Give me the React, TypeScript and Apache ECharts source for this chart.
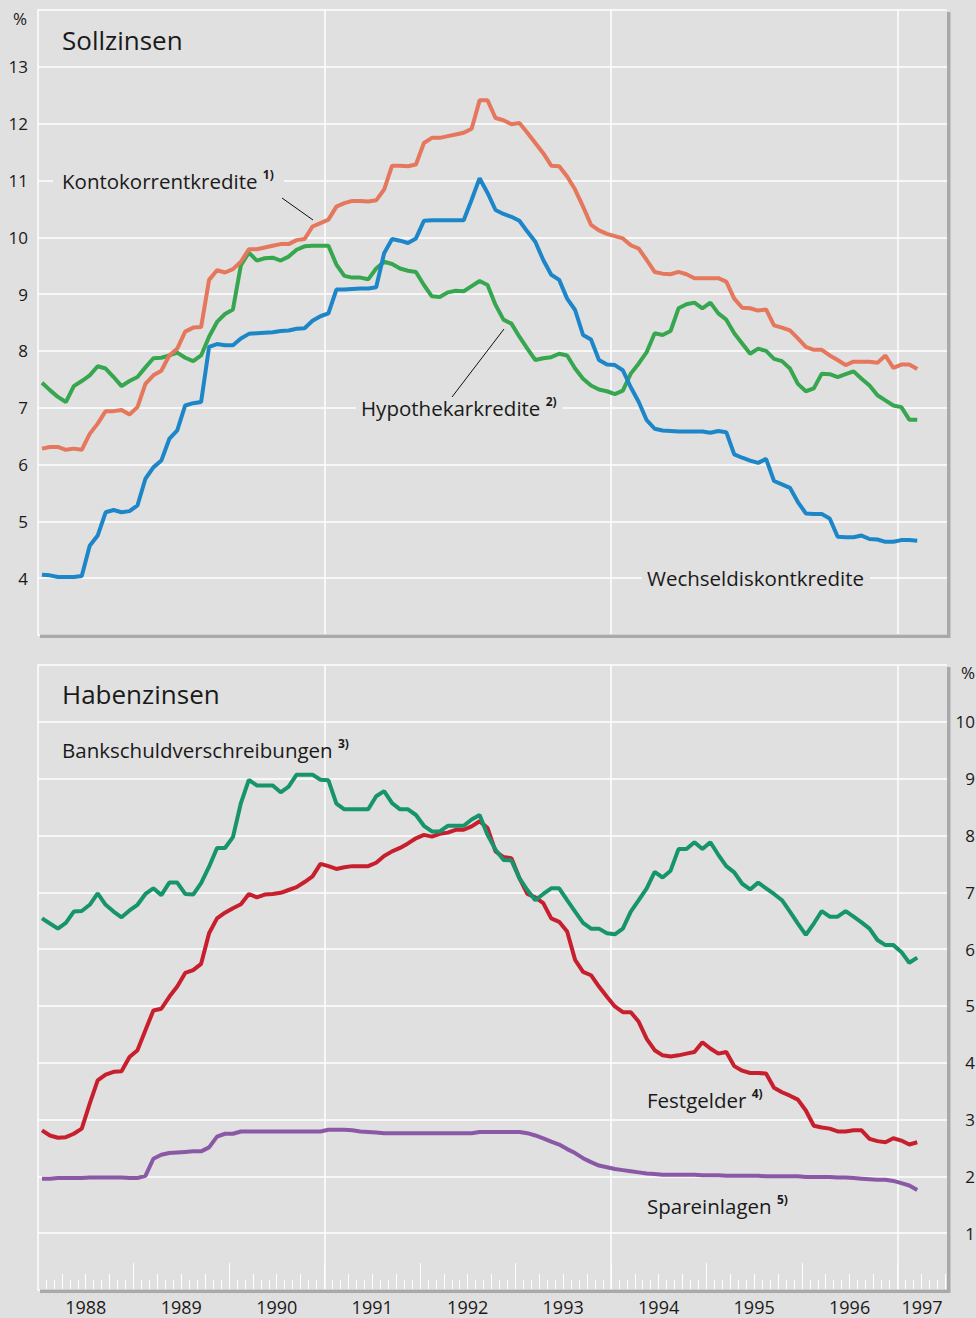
import React, { useEffect, useRef } from "react";
import * as echarts from "echarts";

// ---------- data (monthly, Jan 1988 – Mar 1997) ----------
const START_YEAR = 1988;
const yearLabels = ["1988", "1989", "1990", "1991", "1992", "1993", "1994", "1995", "1996", "1997"];
const sollTickLabels = [4, 5, 6, 7, 8, 9, 10, 11, 12, 13];
const habenTickLabels = [1, 2, 3, 4, 5, 6, 7, 8, 9, 10];

const kontokorrent = [
  6.28, 6.31, 6.31, 6.26, 6.28, 6.26, 6.54, 6.72, 6.94, 6.94, 6.96, 6.88,
  7.01, 7.42, 7.57, 7.65, 7.92, 8.04, 8.34, 8.41, 8.42, 9.25, 9.42, 9.38,
  9.44, 9.57, 9.79, 9.79, 9.82, 9.85, 9.88, 9.88, 9.95, 9.97, 10.19, 10.25,
  10.31, 10.54, 10.6, 10.64, 10.64, 10.63, 10.65, 10.84, 11.26, 11.26, 11.25, 11.28,
  11.66, 11.75, 11.75, 11.78, 11.81, 11.84, 11.91, 12.41, 12.41, 12.1, 12.06, 11.99,
  12.01, 11.84, 11.66, 11.48, 11.26, 11.25, 11.07, 10.84, 10.54, 10.22, 10.12, 10.06,
  10.02, 9.98, 9.86, 9.8, 9.6, 9.39, 9.36, 9.35, 9.39, 9.35, 9.28, 9.28,
  9.28, 9.28, 9.22, 8.92, 8.76, 8.75, 8.71, 8.73, 8.45, 8.41, 8.36, 8.22,
  8.07, 8.02, 8.02, 7.92, 7.84, 7.75, 7.81, 7.81, 7.81, 7.79, 7.92, 7.7,
  7.76, 7.76, 7.68,
];

const wechseldiskont = [
  4.06, 4.05, 4.02, 4.02, 4.02, 4.04, 4.57, 4.75, 5.16, 5.2, 5.16, 5.18,
  5.28, 5.75, 5.95, 6.07, 6.45, 6.6, 7.04, 7.08, 7.1, 8.07, 8.12, 8.1,
  8.1, 8.22, 8.3, 8.31, 8.32, 8.33, 8.35, 8.36, 8.39, 8.4, 8.53, 8.61,
  8.66, 9.08, 9.08, 9.09, 9.1, 9.1, 9.12, 9.72, 9.97, 9.94, 9.9, 9.98,
  10.29, 10.3, 10.3, 10.3, 10.3, 10.3, 10.66, 11.04, 10.78, 10.48, 10.41, 10.36,
  10.29, 10.1, 9.92, 9.6, 9.34, 9.25, 8.92, 8.72, 8.28, 8.2, 7.84, 7.76,
  7.75, 7.66, 7.36, 7.1, 6.78, 6.63, 6.6, 6.59, 6.58, 6.58, 6.58, 6.58,
  6.56, 6.59, 6.57, 6.18, 6.12, 6.07, 6.03, 6.1, 5.71, 5.65, 5.59, 5.34,
  5.14, 5.13, 5.13, 5.05, 4.73, 4.72, 4.72, 4.75, 4.69, 4.68, 4.64, 4.64,
  4.67, 4.67, 4.66,
];

const hypothekar = [
  7.44, 7.31, 7.19, 7.1, 7.38, 7.47, 7.57, 7.73, 7.69, 7.54, 7.38, 7.47,
  7.54, 7.71, 7.87, 7.88, 7.92, 7.97, 7.88, 7.82, 7.92, 8.25, 8.51, 8.65,
  8.73, 9.51, 9.73, 9.59, 9.63, 9.64, 9.59, 9.66, 9.78, 9.84, 9.85, 9.85,
  9.85, 9.52, 9.32, 9.29, 9.29, 9.26, 9.45, 9.57, 9.53, 9.45, 9.41, 9.39,
  9.16, 8.96, 8.95, 9.03, 9.06, 9.05, 9.14, 9.23, 9.16, 8.81, 8.55, 8.48,
  8.25, 8.04, 7.84, 7.87, 7.89, 7.95, 7.92, 7.69, 7.51, 7.39, 7.32, 7.29,
  7.24, 7.3, 7.6, 7.78, 7.98, 8.31, 8.28, 8.35, 8.75, 8.82, 8.85, 8.75,
  8.85, 8.66, 8.55, 8.31, 8.13, 7.95, 8.04, 8.0, 7.86, 7.82, 7.69, 7.42,
  7.29, 7.34, 7.6, 7.59, 7.54, 7.59, 7.64, 7.51, 7.39, 7.22, 7.13, 7.04,
  7.01, 6.79, 6.79,
];

const bankschuld = [
  6.54, 6.45, 6.36, 6.46, 6.66, 6.67, 6.78, 6.98, 6.78, 6.66, 6.56, 6.68,
  6.78, 6.97, 7.07, 6.95, 7.17, 7.17, 6.97, 6.96, 7.16, 7.45, 7.78, 7.78,
  7.97, 8.57, 8.98, 8.88, 8.88, 8.88, 8.76, 8.86, 9.07, 9.07, 9.07, 8.98,
  8.97, 8.56, 8.46, 8.46, 8.46, 8.46, 8.69, 8.78, 8.57, 8.46, 8.46, 8.36,
  8.17, 8.07, 8.07, 8.17, 8.17, 8.17, 8.28, 8.36, 8.01, 7.75, 7.57, 7.56,
  7.25, 7.04, 6.86, 6.97, 7.07, 7.07, 6.86, 6.66, 6.46, 6.36, 6.36, 6.28,
  6.26, 6.36, 6.66, 6.86, 7.07, 7.36, 7.26, 7.38, 7.76, 7.76, 7.88, 7.76,
  7.88, 7.66, 7.46, 7.35, 7.15, 7.05, 7.17, 7.07, 6.97, 6.86, 6.66, 6.45,
  6.25, 6.45, 6.67, 6.57, 6.57, 6.67, 6.57, 6.47, 6.36, 6.16, 6.07, 6.07,
  5.95, 5.76, 5.85,
];

const festgelder = [
  2.81, 2.72, 2.68, 2.69, 2.75, 2.84, 3.28, 3.69, 3.79, 3.84, 3.85, 4.1,
  4.22, 4.57, 4.92, 4.95, 5.16, 5.34, 5.58, 5.63, 5.74, 6.28, 6.54, 6.64,
  6.72, 6.79, 6.97, 6.91, 6.96, 6.97, 6.99, 7.04, 7.09, 7.18, 7.28, 7.5,
  7.46, 7.41, 7.44, 7.46, 7.46, 7.46, 7.52, 7.64, 7.72, 7.78, 7.86, 7.95,
  8.01, 7.98, 8.03, 8.05, 8.1, 8.1, 8.16, 8.25, 8.13, 7.72, 7.62, 7.6,
  7.25, 6.97, 6.91, 6.81, 6.54, 6.48, 6.31, 5.81, 5.6, 5.54, 5.34, 5.16,
  4.99, 4.89, 4.89, 4.72, 4.42, 4.22, 4.13, 4.11, 4.13, 4.16, 4.19, 4.36,
  4.25, 4.16, 4.19, 3.94, 3.86, 3.82, 3.82, 3.81, 3.56, 3.48, 3.42, 3.35,
  3.16, 2.89, 2.86, 2.84, 2.79, 2.79, 2.81, 2.81, 2.66, 2.62, 2.6, 2.67,
  2.63, 2.56, 2.6,
];

const spareinlagen = [
  1.96, 1.96, 1.97, 1.97, 1.97, 1.97, 1.98, 1.98, 1.98, 1.98, 1.98, 1.97,
  1.97, 2.01, 2.31, 2.38, 2.41, 2.42, 2.43, 2.44, 2.44, 2.51, 2.7, 2.75,
  2.75, 2.79, 2.79, 2.79, 2.79, 2.79, 2.79, 2.79, 2.79, 2.79, 2.79, 2.79,
  2.82, 2.82, 2.82, 2.81, 2.79, 2.78, 2.77, 2.76, 2.76, 2.76, 2.76, 2.76,
  2.76, 2.76, 2.76, 2.76, 2.76, 2.76, 2.76, 2.78, 2.78, 2.78, 2.78, 2.78,
  2.78, 2.76, 2.72, 2.67, 2.61, 2.56, 2.48, 2.41, 2.32, 2.25, 2.19, 2.16,
  2.13, 2.11, 2.09, 2.07, 2.05, 2.04, 2.03, 2.03, 2.03, 2.03, 2.03, 2.02,
  2.02, 2.02, 2.01, 2.01, 2.01, 2.01, 2.01, 2.0, 2.0, 2.0, 2.0, 2.0,
  1.99, 1.99, 1.99, 1.99, 1.98, 1.98, 1.97, 1.96, 1.95, 1.94, 1.94, 1.92,
  1.88, 1.84, 1.76,
];

// ---------- axis structure (months since Jan 1988) ----------
const X_MAX = 114.24; // visible range ends in early July 1997
const monthTicks: number[] = [];
const quarterTicks: number[] = [];
const yearTicks: number[] = [];
for (let m = 1; m <= 114; m++) {
  if (m % 12 === 0) yearTicks.push(m);
  else if (m % 3 === 0) quarterTicks.push(m);
  else monthTicks.push(m);
}
const gridYears = [36, 72, 108];
const yearLabelPos = [6, 18, 30, 42, 54, 66, 78, 90, 102, 111.1];

const FONT = "'Open Sans', 'Noto Sans', sans-serif";
const BG = "#e0e0e0";
const TEXT = "#1a1a1a";
const SHADOW = "#a9a9a9";

const C_KONTO = "#e5775c";
const C_WECHSEL = "#1c86c8";
const C_HYPO = "#37a74f";
const C_BANK = "#16946b";
const C_FEST = "#c71f2e";
const C_SPAR = "#8a59a6";

const toPairs = (arr: number[]) => arr.map((v, i) => [i + 0.5, v]);

function tickAxis(values: number[], length: number) {
  return {
    gridIndex: 1,
    type: "value",
    position: "bottom",
    min: 0,
    max: X_MAX,
    axisLine: { show: false },
    axisLabel: { show: false },
    splitLine: { show: false },
    axisTick: {
      show: true,
      inside: true,
      length,
      customValues: values,
      lineStyle: { color: "#ffffff", width: 1 },
    },
  };
}

function lineSeries(name: string, data: number[], color: string, panel: number) {
  return {
    name,
    type: "line",
    xAxisIndex: panel === 0 ? 0 : 1,
    yAxisIndex: panel === 0 ? 0 : 1,
    data: toPairs(data),
    symbol: "none",
    showSymbol: false,
    silent: true,
    z: 3,
    color,
    lineStyle: { color, width: 4 },
  };
}

function label(x: number, y: number, main: string, sup?: string, bg?: boolean, padL = 0, padR = 0) {
  return {
    type: "text",
    x,
    y,
    z: 20,
    style: {
      text: sup ? `{m|${main} }{s|${sup}}` : `{m|${main}}`,
      rich: {
        m: { fontSize: 20.5, fontFamily: FONT, fill: TEXT, lineHeight: 26 },
        s: { fontSize: 12, fontFamily: FONT, fontWeight: "bold", fill: TEXT, lineHeight: 25, verticalAlign: "top" },
      },
      verticalAlign: "middle",
      align: "left",
      backgroundColor: bg ? BG : undefined,
      padding: [0, padR, 0, padL],
    },
  };
}

export default function App() {
  const ref = useRef<HTMLDivElement>(null);

  useEffect(() => {
    if (!ref.current) return;
    const chart = echarts.init(ref.current, undefined, { renderer: "svg" });

    const option: any = {
      animation: false,
      backgroundColor: BG,
      textStyle: { fontFamily: FONT },
      grid: [
        { left: 38, top: 10, width: 909, height: 625, outerBoundsMode: "none", containLabel: false },
        { left: 38, top: 665, width: 909, height: 625, outerBoundsMode: "none", containLabel: false },
      ],
      xAxis: [
        {
          gridIndex: 0,
          type: "value",
          position: "bottom",
          min: 0,
          max: X_MAX,
          axisLine: { show: false },
          axisTick: { show: false, customValues: gridYears },
          axisLabel: { show: false },
          splitLine: { show: true, lineStyle: { color: "#ffffff", width: 1.5 } },
        },
        {
          gridIndex: 1,
          type: "value",
          position: "bottom",
          min: 0,
          max: X_MAX,
          axisLine: { show: false },
          axisTick: { show: false, customValues: gridYears },
          axisLabel: {
            show: true,
            customValues: yearLabelPos,
            formatter: (v: number) => yearLabels[Math.floor(v / 12)] ?? String(START_YEAR + Math.floor(v / 12)),
            fontSize: 18,
            color: TEXT,
            fontFamily: FONT,
            margin: 8,
          },
          splitLine: { show: true, lineStyle: { color: "#ffffff", width: 1.5 } },
        },
        tickAxis(monthTicks, 10),
        tickAxis(quarterTicks, 16),
        tickAxis(yearTicks, 27),
      ],
      yAxis: [
        {
          gridIndex: 0,
          type: "value",
          position: "left",
          min: 3,
          max: 14,
          interval: 1,
          axisLine: { show: true, lineStyle: { color: "#ffffff", width: 1.5 } },
          axisTick: { show: false },
          axisLabel: {
            customValues: sollTickLabels,
            fontSize: 17,
            color: TEXT,
            fontFamily: FONT,
            margin: 10,
          },
          splitLine: { show: true, lineStyle: { color: "#ffffff", width: 1.5 } },
        },
        {
          gridIndex: 1,
          type: "value",
          position: "right",
          min: 0,
          max: 11,
          interval: 1,
          axisLine: { show: false },
          axisTick: { show: false },
          axisLabel: {
            customValues: habenTickLabels,
            fontSize: 17,
            color: TEXT,
            fontFamily: FONT,
            margin: 28,
            align: "right",
          },
          splitLine: { show: true, lineStyle: { color: "#ffffff", width: 1.5 } },
        },
        {
          gridIndex: 1,
          type: "value",
          position: "left",
          min: 0,
          max: 11,
          axisLine: { show: true, lineStyle: { color: "#ffffff", width: 1.5 } },
          axisTick: { show: false },
          axisLabel: { show: false },
          splitLine: { show: false },
        },
      ],
      series: [
        lineSeries("Hypothekarkredite", hypothekar, C_HYPO, 0),
        lineSeries("Wechseldiskontkredite", wechseldiskont, C_WECHSEL, 0),
        lineSeries("Kontokorrentkredite", kontokorrent, C_KONTO, 0),
        lineSeries("Spareinlagen", spareinlagen, C_SPAR, 1),
        lineSeries("Festgelder", festgelder, C_FEST, 1),
        lineSeries("Bankschuldverschreibungen", bankschuld, C_BANK, 1),
      ],
      graphic: [
        // panel shadows
        { type: "rect", z: 15, shape: { x: 40, y: 634.5, width: 910, height: 3.5 }, style: { fill: SHADOW } },
        { type: "rect", z: 15, shape: { x: 947, y: 12, width: 3.5, height: 626 }, style: { fill: SHADOW } },
        { type: "rect", z: 15, shape: { x: 40, y: 1289.5, width: 910, height: 3.5 }, style: { fill: SHADOW } },
        { type: "rect", z: 15, shape: { x: 947, y: 667, width: 3.5, height: 626 }, style: { fill: SHADOW } },
        // unit labels
        { type: "text", x: 27, y: 18, z: 20, style: { text: "%", fontSize: 17, fontFamily: FONT, fill: TEXT, align: "right", verticalAlign: "middle" } },
        { type: "text", x: 975, y: 672, z: 20, style: { text: "%", fontSize: 17, fontFamily: FONT, fill: TEXT, align: "right", verticalAlign: "middle" } },
        // titles
        { type: "text", x: 62, y: 40, z: 20, style: { text: "Sollzinsen", fontSize: 26, fontFamily: FONT, fill: TEXT, verticalAlign: "middle" } },
        { type: "text", x: 62, y: 694, z: 20, style: { text: "Habenzinsen", fontSize: 26, fontFamily: FONT, fill: TEXT, verticalAlign: "middle" } },
        // series labels
        label(53, 181, "Kontokorrentkredite", "1)", true, 9, 10),
        label(356, 408, "Hypothekarkredite", "2)", true, 5, 6),
        label(642, 578, "Wechseldiskontkredite", undefined, true, 5, 6),
        label(62, 750, "Bankschuldverschreibungen", "3)"),
        label(647, 1100, "Festgelder", "4)"),
        label(647, 1206, "Spareinlagen", "5)"),
        // leader lines
        { type: "line", z: 20, shape: { x1: 282, y1: 198, x2: 313, y2: 220 }, style: { stroke: "#111", lineWidth: 1 } },
        { type: "line", z: 20, shape: { x1: 452, y1: 397, x2: 504, y2: 329 }, style: { stroke: "#111", lineWidth: 1 } },
      ],
    };

    chart.setOption(option);
    return () => chart.dispose();
  }, []);

  return (
    <div
      ref={ref}
      style={{ position: "absolute", left: 0, top: 0, width: 976, height: 1318 }}
    />
  );
}
